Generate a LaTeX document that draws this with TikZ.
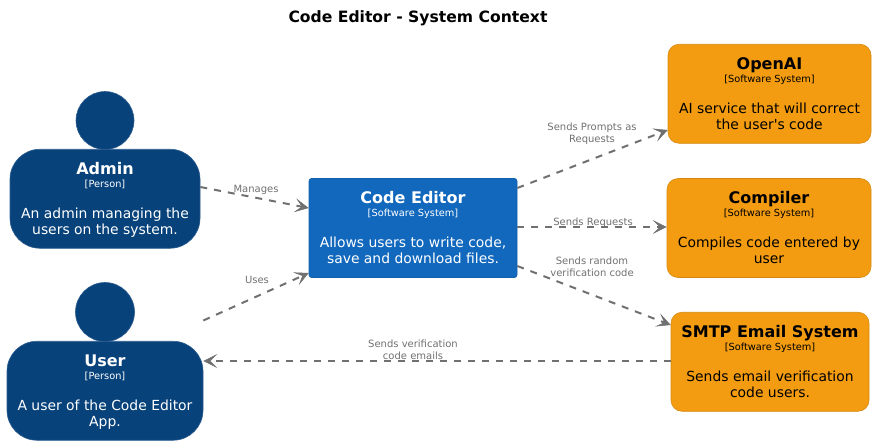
\documentclass[tikz,border=0pt]{standalone}
\usepackage{fontspec}
\setmainfont[Ligatures=TeXOff]{DejaVu Sans}
\usetikzlibrary{arrows.meta}
\definecolor{personblue}{HTML}{08427B}
\definecolor{sysblue}{HTML}{1168BD}
\definecolor{extorange}{HTML}{F39C12}
\definecolor{linkgrey}{HTML}{707070}
\newcommand{\nm}[1]{{\fontsize{16}{16}\selectfont\bfseries\rule{0pt}{14pt}#1}}
\newcommand{\ty}[1]{{\fontsize{9.8}{14}\selectfont #1}}
\newcommand{\lastln}{\rule[-3.5pt]{0pt}{3.5pt}}
\tikzset{
  boxbase/.style={align=center,inner sep=0pt,font=\fontsize{13.9}{16}\selectfont},
  personbody/.style={boxbase,draw=personblue!85!white,fill=personblue,text=white,rounded corners=30pt,line width=.6pt},
  personhead/.style={circle,draw=personblue!85!white,fill=personblue,inner sep=0pt,line width=.6pt},
  mainsys/.style={boxbase,draw=sysblue!92!black,fill=sysblue,text=white,rounded corners=2.5pt,line width=.6pt,minimum width=208pt,minimum height=99pt},
  extsys/.style={boxbase,draw=extorange!88!black,fill=extorange,text=black,rounded corners=11pt,line width=.6pt,minimum height=99pt},
  rel/.style={draw=linkgrey,line width=2pt,dash pattern=on 7pt off 7pt,-{Stealth[length=14pt,width=14pt,inset=7pt,fill=linkgrey,line width=.5pt,sep=0pt]}},
  rellabel/.style={text=linkgrey,align=center,inner sep=0pt,font=\fontsize{10}{12}\selectfont},
  titletext/.style={inner sep=0pt,font=\fontsize{15.6}{18}\selectfont\bfseries}
}
\begin{document}
\begin{tikzpicture}[x=1pt,y=-1pt]
\useasboundingbox (0,0) rectangle (876,445);
\node[titletext] (title) at (418,18) {Code Editor - System Context};

\node[personhead,minimum size=58pt] (adminhead) at (105,120.5) {};
\node[personbody,minimum width=190pt,minimum height=99pt] (admin) at (105,198.75)
 {\nm{Admin}\\[-3pt]\ty{[Person]}\\[15pt]An admin managing the\\users on the system.\lastln};
\node[personhead,minimum size=59pt] (userhead) at (105,312) {};
\node[personbody,minimum width=196pt,minimum height=99pt] (user) at (105,390.75)
 {\nm{User}\\[-3pt]\ty{[Person]}\\[15pt]A user of the Code Editor\\App.\lastln};

\node[mainsys] (editor) at (413,228)
 {\nm{Code Editor}\\[-3pt]\ty{[Software System]}\\[15pt]Allows users to write code,\\save and download files.\lastln};

\node[extsys,minimum width=203pt] (openai) at (769.5,93.75)
 {\nm{OpenAI}\\[-3pt]\ty{[Software System]}\\[15pt]AI service that will correct\\the user's code\lastln};
\node[extsys,minimum width=204pt] (compiler) at (769,228)
 {\nm{Compiler}\\[-3pt]\ty{[Software System]}\\[15pt]Compiles code entered by\\user\lastln};
\node[extsys,minimum width=198pt] (smtp) at (770,361.75)
 {\nm{SMTP Email System}\\[-3pt]\ty{[Software System]}\\[15pt]Sends email verification\\code users.\lastln};

\coordinate (userfree) at ([yshift=70.25pt]user.east);
\draw[rel] ([yshift=11.75pt]admin.east) -- ([yshift=20pt]editor.west);
\draw[rel] (userfree) -- ([yshift=-45pt]editor.west);
\draw[rel] ([yshift=40pt]editor.east) -- ([yshift=-36.25pt]openai.west);
\draw[rel] ([yshift=1pt]editor.east) -- ([yshift=1pt]compiler.west);
\draw[rel] ([yshift=-38pt]editor.east) -- ([yshift=36.75pt]smtp.west);
\draw[rel] ([yshift=.75pt]smtp.west) -- ([yshift=29.75pt]user.east);

\node[rellabel] (lmanages) at (256,190) {Manages};
\node[rellabel] (luses) at (257,280) {Uses};
\node[rellabel] (lprompts) at (592,134) {Sends Prompts as\\Requests};
\node[rellabel] (lrequests) at (593,222.5) {Sends Requests};
\node[rellabel] (lrandom) at (592,266.5) {Sends random\\verification code};
\node[rellabel] (lverify) at (413,350) {Sends verification\\code emails};
\end{tikzpicture}
\end{document}
